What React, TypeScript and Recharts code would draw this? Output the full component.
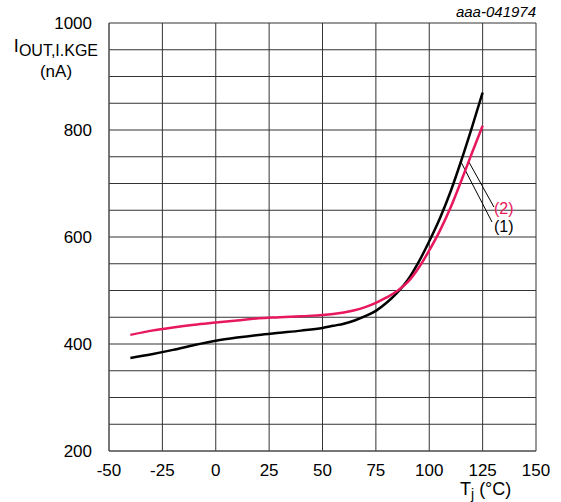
import { LineChart, Line, XAxis, YAxis, CartesianGrid, ReferenceLine } from "recharts";

const temps = [-40, -30, -20, -10, 0, 10, 20, 30, 40, 50, 55, 60, 65, 70, 75, 80, 85, 90, 95, 100, 105, 110, 115, 120, 125];
const curve1 = [374, 381, 389, 398, 406, 412, 417, 421, 425, 430, 434, 438, 444, 452, 462, 477, 496, 520, 553, 592, 635, 685, 743, 805, 870];
const curve2 = [417, 425, 431, 436, 440, 444, 448, 450, 452, 454, 456, 459, 463, 469, 477, 487, 499, 516, 542, 575, 612, 655, 705, 757, 808];

const xTicks = [-50, -25, 0, 25, 50, 75, 100, 125, 150];
const yTicks = [200, 250, 300, 350, 400, 450, 500, 550, 600, 650, 700, 750, 800, 850, 900, 950, 1000];
const yLabelled = [200, 400, 600, 800, 1000];

const leader1 = [{ x: 114.9, y: 740 }, { x: 129.4, y: 628 }];
const leader2 = [{ x: 118.6, y: 740 }, { x: 130.3, y: 656 }];

const data = temps.map((t, i) => ({ t, c1: curve1[i], c2: curve2[i] }));

const FONT = "Arial, 'Liberation Sans', sans-serif";
const RED = "#e8185c";

export default function App() {
  return (
    <div style={{ position: "absolute", left: 0, top: 0, width: 561, height: 502, background: "#fff", fontFamily: FONT }}>
      <LineChart width={561} height={502} data={data} margin={{ top: 23, right: 25, bottom: 21, left: 0 }}>
        <CartesianGrid stroke="#333" strokeWidth={1} horizontalValues={yTicks} verticalValues={xTicks} />
        <XAxis
          dataKey="t"
          type="number"
          domain={[-50, 150]}
          ticks={xTicks}
          height={30}
          axisLine={{ stroke: "#555" }}
          tickLine={false}
          tickMargin={7}
          tick={{ fill: "#000", fontSize: 17, fontFamily: FONT }}
        />
        <YAxis
          type="number"
          domain={[200, 1000]}
          ticks={yTicks}
          width={109}
          interval={0}
          axisLine={{ stroke: "#555" }}
          tickLine={false}
          tickMargin={11}
          tickFormatter={(v: number) => (yLabelled.includes(v) ? String(v) : "")}
          tick={{ fill: "#000", fontSize: 17, fontFamily: FONT }}
        />
        <ReferenceLine segment={leader1} stroke="#000" strokeWidth={1} />
        <ReferenceLine segment={leader2} stroke="#000" strokeWidth={1} />
        <Line type="monotone" dataKey="c1" stroke="#000" strokeWidth={2.5} dot={false} isAnimationActive={false} />
        <Line type="monotone" dataKey="c2" stroke={RED} strokeWidth={2.5} dot={false} isAnimationActive={false} />
      </LineChart>
      <svg width={561} height={502} style={{ position: "absolute", left: 0, top: 0, pointerEvents: "none" }}>
        <text x={536} y={17} textAnchor="end" fontSize={15} fontStyle="italic" fontFamily={FONT} fill="#000">aaa-041974</text>
        <text x={98} y={52} textAnchor="end" fontFamily={FONT} fill="#000">
          <tspan fontSize={18}>I</tspan>
          <tspan fontSize={16} dy={4}>OUT,I.KGE</tspan>
        </text>
        <text x={56} y={77} textAnchor="middle" fontSize={17} fontFamily={FONT} fill="#000">(nA)</text>
        <text x={460} y={495} fontFamily={FONT} fill="#000">
          <tspan fontSize={18}>T</tspan>
          <tspan fontSize={14} dy={4}>j</tspan>
          <tspan fontSize={18} dy={-4}> (°C)</tspan>
        </text>
        <text x={494} y={214} fontSize={16} fontFamily={FONT} fill={RED}>(2)</text>
        <text x={494} y={232} fontSize={16} fontFamily={FONT} fill="#000">(1)</text>
      </svg>
    </div>
  );
}
